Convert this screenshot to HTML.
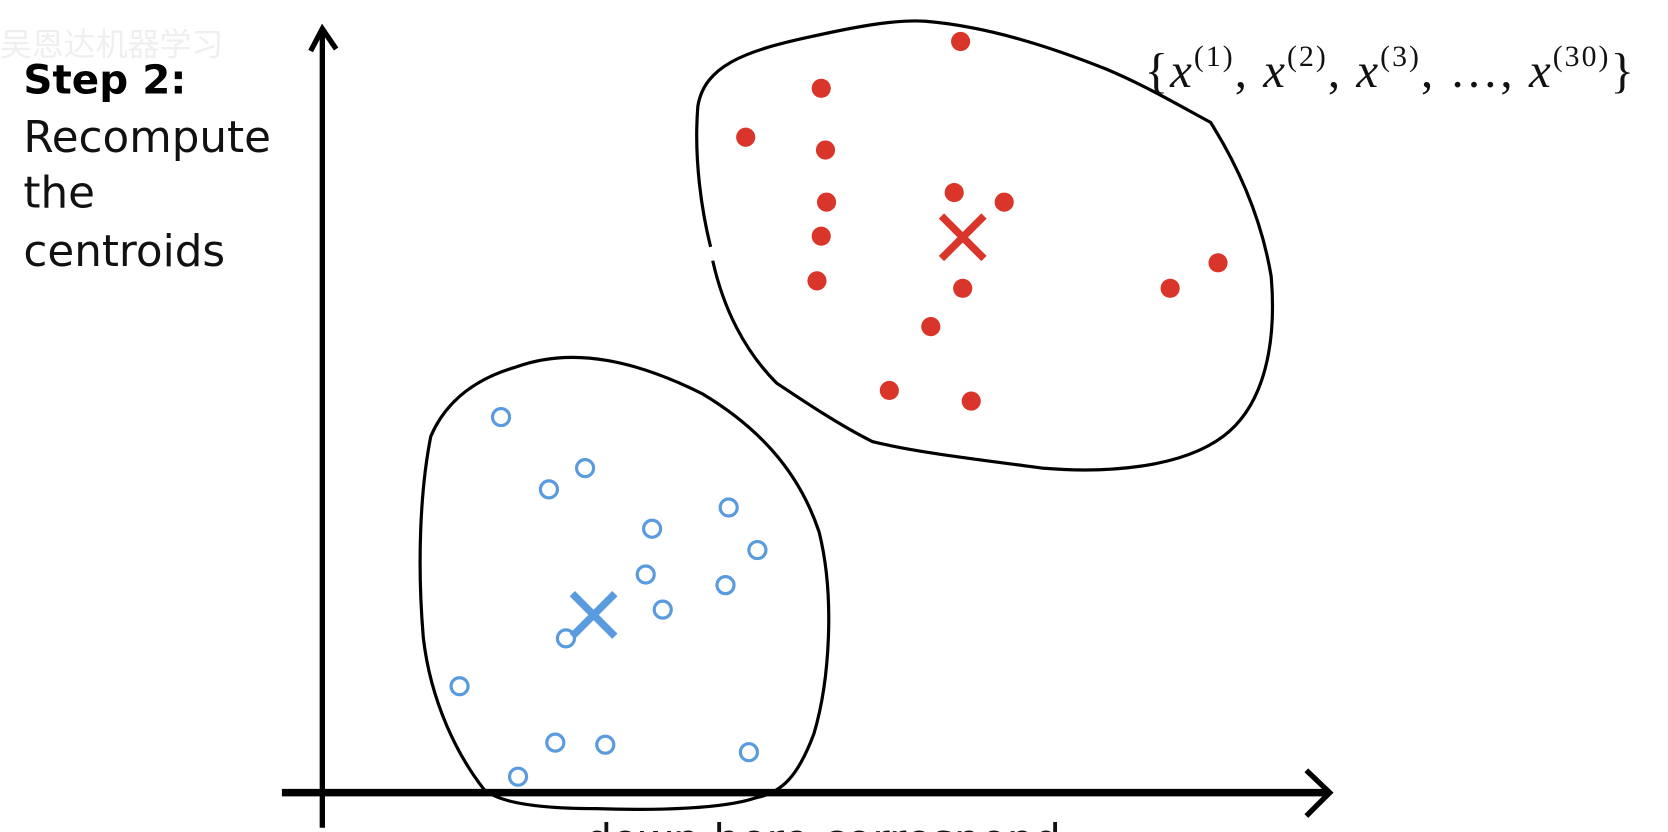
<!DOCTYPE html>
<html><head><meta charset="utf-8"><style>
html,body{margin:0;padding:0;background:#fff;overflow:hidden}
svg{display:block}
</style></head><body>
<svg width="1668" height="832" viewBox="0 0 1568 782" preserveAspectRatio="none" xmlns="http://www.w3.org/2000/svg">
<rect width="1568" height="782" fill="#fff"/>
<text x="0" y="52" font-family="Noto Sans CJK SC, sans-serif" font-size="30" fill="#efefef">吴恩达机器学习</text>
<text x="22" y="88" font-family="DejaVu Sans, sans-serif" font-weight="bold" font-size="38">Step 2:</text>
<g font-family="DejaVu Sans, sans-serif" font-size="41" fill="#111">
<text x="22" y="143">Recompute</text>
<text x="22" y="195">the</text>
<text x="22" y="250">centroids</text>
</g>
<!-- axes -->
<line x1="303" y1="30" x2="303" y2="778" stroke="#000" stroke-width="5"/>
<polyline points="292,48 303,27 316,46" fill="none" stroke="#000" stroke-width="5"/>
<line x1="265" y1="745" x2="1248" y2="745" stroke="#000" stroke-width="7"/>
<polyline points="1228,724 1250,745 1228,767" fill="none" stroke="#000" stroke-width="5"/>
<!-- red blob -->
<path d="M668,232 C660,200 652,150 656,100 C662,62 700,48 760,35 C800,26 840,18 870,20 C930,25 990,45 1040,65 C1080,82 1110,100 1138,115 C1160,150 1185,200 1195,260 C1200,320 1190,380 1150,410 C1110,440 1040,445 980,440 C920,432 860,425 820,415 C790,400 760,380 730,360 C700,330 680,290 670,245" fill="none" stroke="#000" stroke-width="3"/>
<!-- blue blob -->
<path d="M485,345 C540,325 600,340 660,370 C710,400 750,440 770,500 C785,560 780,640 765,690 C750,730 735,745 710,750 C680,760 620,762 560,760 C510,760 470,755 455,742 C430,710 405,660 398,600 C392,530 395,460 405,410 C420,375 450,355 485,345" fill="none" stroke="#000" stroke-width="3"/>
<!-- red dots -->
<g fill="#d9352b">
<circle cx="903" cy="39" r="9"/><circle cx="772" cy="83" r="9"/><circle cx="701" cy="129" r="9"/>
<circle cx="776" cy="141" r="9"/><circle cx="777" cy="190" r="9"/><circle cx="897" cy="181" r="9"/>
<circle cx="944" cy="190" r="9"/><circle cx="772" cy="222" r="9"/><circle cx="768" cy="264" r="9"/>
<circle cx="905" cy="271" r="9"/><circle cx="875" cy="307" r="9"/><circle cx="1100" cy="271" r="9"/>
<circle cx="1145" cy="247" r="9"/><circle cx="836" cy="367" r="9"/><circle cx="913" cy="377" r="9"/>
</g>
<g stroke="#d9352b" stroke-width="7"><line x1="885" y1="203" x2="925" y2="243"/><line x1="925" y1="203" x2="885" y2="243"/></g>
<!-- blue circles -->
<g fill="none" stroke="#5a9be0" stroke-width="3">
<circle cx="471" cy="392" r="8"/><circle cx="550" cy="440" r="8"/><circle cx="516" cy="460" r="8"/>
<circle cx="685" cy="477" r="8"/><circle cx="613" cy="497" r="8"/><circle cx="712" cy="517" r="8"/>
<circle cx="607" cy="540" r="8"/><circle cx="682" cy="550" r="8"/><circle cx="623" cy="573" r="8"/>
<circle cx="532" cy="600" r="8"/><circle cx="432" cy="645" r="8"/><circle cx="522" cy="698" r="8"/>
<circle cx="569" cy="700" r="8"/><circle cx="704" cy="707" r="8"/><circle cx="487" cy="730" r="8"/>
</g>
<g stroke="#5a9be0" stroke-width="7"><line x1="538" y1="558" x2="578" y2="598"/><line x1="578" y1="558" x2="538" y2="598"/></g>
<!-- set notation -->
<text x="1076" y="82" font-family="Liberation Serif, serif" font-size="46" fill="#111" textLength="460">{<tspan font-style="italic">x</tspan><tspan font-size="28" dy="-20">(1)</tspan><tspan dy="20">, </tspan><tspan font-style="italic">x</tspan><tspan font-size="28" dy="-20">(2)</tspan><tspan dy="20">, </tspan><tspan font-style="italic">x</tspan><tspan font-size="28" dy="-20">(3)</tspan><tspan dy="20">, …, </tspan><tspan font-style="italic">x</tspan><tspan font-size="28" dy="-20">(30)</tspan><tspan dy="20">}</tspan></text>
<text x="550" y="803" font-family="DejaVu Sans, sans-serif" font-size="40" fill="#111">down here correspond</text>
</svg>
</body></html>
